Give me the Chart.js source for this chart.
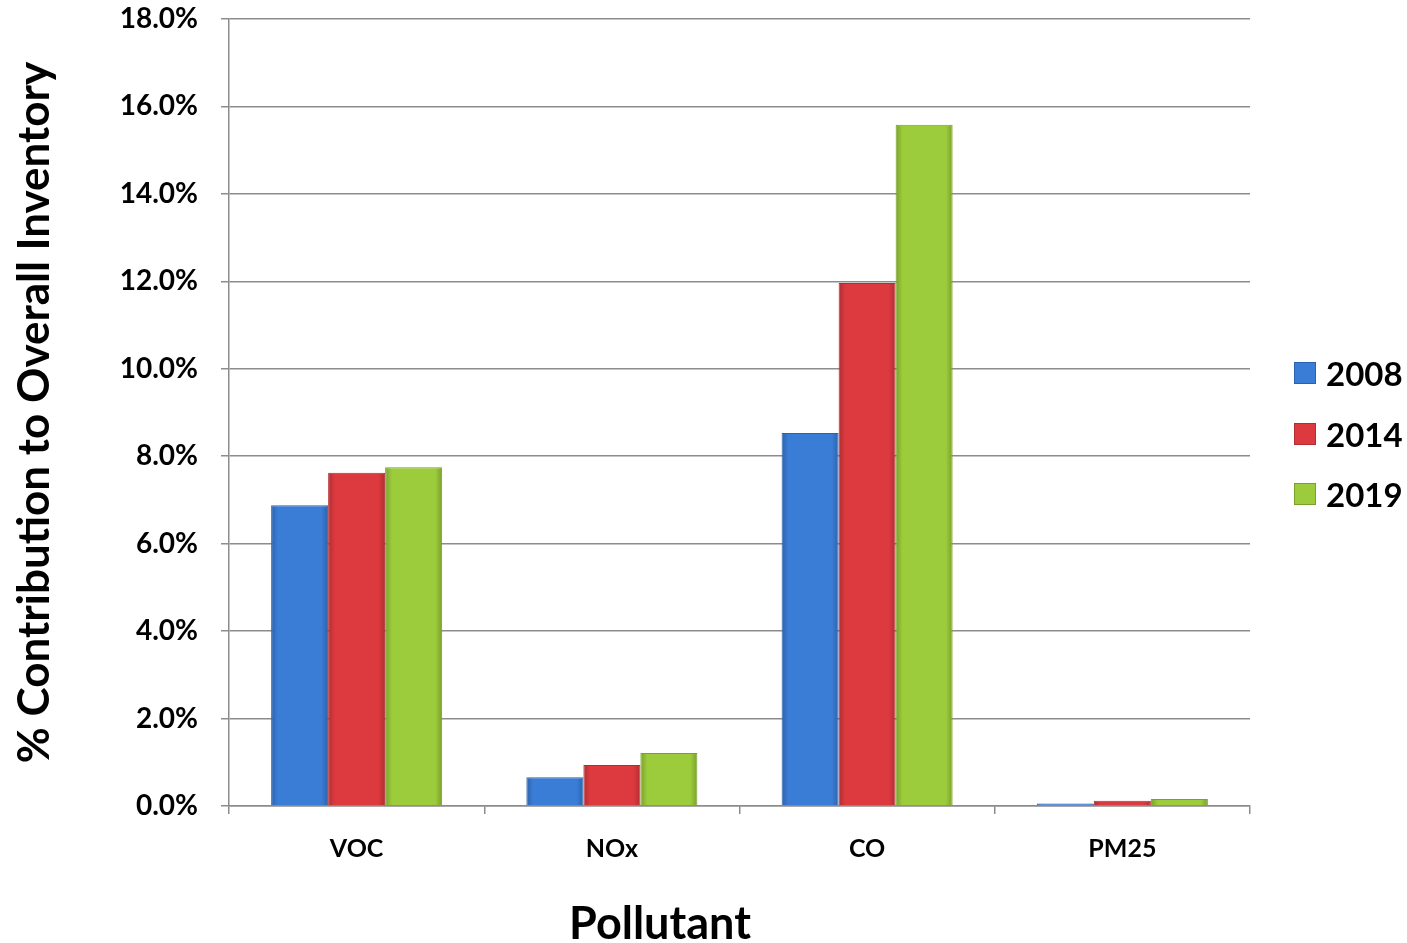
<!DOCTYPE html>
<html>
<head>
<meta charset="utf-8">
<script src="https://cdn.jsdelivr.net/npm/chart.js@4.4.0/dist/chart.umd.min.js"></script>
<style>
  html, body { margin: 0; padding: 0; background: #fff; }
  #wrap { position: relative; width: 1407px; height: 943px; }
  .lbl { position: absolute; font-family: Lato, 'Open Sans', sans-serif; font-weight: bold; color: #000; white-space: nowrap; }
  #xTitle { left: 0; width: 1320px; top: 896px; text-align: center; font-size: 45px; line-height: 52px; }
  #legend { position: absolute; left: 1294px; top: 343px; }
  .item { display: flex; align-items: center; height: 60.5px; font-family: Lato, 'Open Sans', sans-serif; font-weight: bold; font-size: 33px; }
  .sw { width: 22px; height: 22px; margin-right: 10px; box-sizing: border-box; }
</style>
</head>
<body>
<div id="wrap">
  <canvas id="pollutantChart"></canvas>
  <div id="legend"></div>
  <div id="xTitle" class="lbl">Pollutant</div>
</div>
<script>
// Chart values (percent contribution to overall inventory)
const pollutants = ['VOC', 'NOx', 'CO', 'PM25'];
const years = ['2008', '2014', '2019'];
const values2008 = [6.88, 0.66, 8.53, 0.06];
const values2014 = [7.62, 0.94, 11.96, 0.12];
const values2019 = [7.75, 1.21, 15.58, 0.16];

const fills = ['#3a7dd6', '#dc3a3f', '#9ccb3b'];
const darks = ['#2c62ad', '#b02d31', '#7aa02c'];
const fontFamily = "Lato, 'Open Sans', sans-serif";
const catPct = 0.67;

// soft bevel: darker at the bar edges, following the x scale
function barFill(context, i) {
  const chart = context.chart;
  const xs = chart.scales.x;
  if (!xs || context.type !== 'data' || !isFinite(xs.left)) return fills[i];
  const catW = (xs.right - xs.left) / pollutants.length;
  const w = catW * catPct / years.length;
  const left = xs.getPixelForValue(context.dataIndex) - catW * catPct / 2 + i * w;
  const g = chart.ctx.createLinearGradient(left, 0, left + w, 0);
  g.addColorStop(0, darks[i]);
  g.addColorStop(0.12, fills[i]);
  g.addColorStop(0.88, fills[i]);
  g.addColorStop(1, darks[i]);
  return g;
}

const ctx = document.getElementById('pollutantChart').getContext('2d');
new Chart(ctx, {
  type: 'bar',
  data: {
    labels: pollutants,
    datasets: [values2008, values2014, values2019].map((vals, i) => ({
      label: years[i],
      data: vals,
      backgroundColor: c => barFill(c, i),
      borderColor: darks[i],
      borderWidth: 1,
      categoryPercentage: catPct,
      barPercentage: 1.0
    }))
  },
  options: {
    responsive: true,
    maintainAspectRatio: false,
    animation: false,
    layout: { padding: { top: 19, right: 157, left: 0, bottom: 0 } },
    plugins: {
      legend: { display: false },
      tooltip: { enabled: false }
    },
    scales: {
      x: {
        grid: {
          display: true,
          drawOnChartArea: false,
          drawTicks: true,
          tickLength: 8,
          color: '#8c8c8c',
          lineWidth: 1.5
        },
        border: { color: '#8c8c8c', width: 1.5 },
        ticks: {
          color: '#000',
          padding: 20,
          font: { family: fontFamily, size: 25, weight: 'bold' }
        },
        afterFit: scale => { scale.height = 137; }
      },
      y: {
        min: 0,
        max: 18,
        ticks: {
          stepSize: 2,
          color: '#000',
          padding: 23,
          font: { family: fontFamily, size: 28, weight: 'bold' },
          callback: v => v.toFixed(1) + '%'
        },
        grid: {
          color: '#8c8c8c',
          lineWidth: 1.5,
          tickLength: 8
        },
        border: { color: '#8c8c8c', width: 1.5 },
        title: {
          display: true,
          text: '% Contribution to Overall Inventory',
          color: '#000',
          padding: { top: 8, bottom: 0 },
          font: { family: fontFamily, size: 44, weight: 'bold' }
        },
        afterFit: scale => {
          scale.width = 229;
          scale.paddingTop = 0;
          scale.paddingBottom = 0;
        }
      }
    }
  }
});

// legend built from the same series names and colours
const legend = document.getElementById('legend');
years.forEach((y, i) => {
  const item = document.createElement('div');
  item.className = 'item';
  item.innerHTML = `<span class="sw" style="background:${fills[i]};border:1px solid ${darks[i]}"></span>${y}`;
  legend.appendChild(item);
});
</script>
</body>
</html>
